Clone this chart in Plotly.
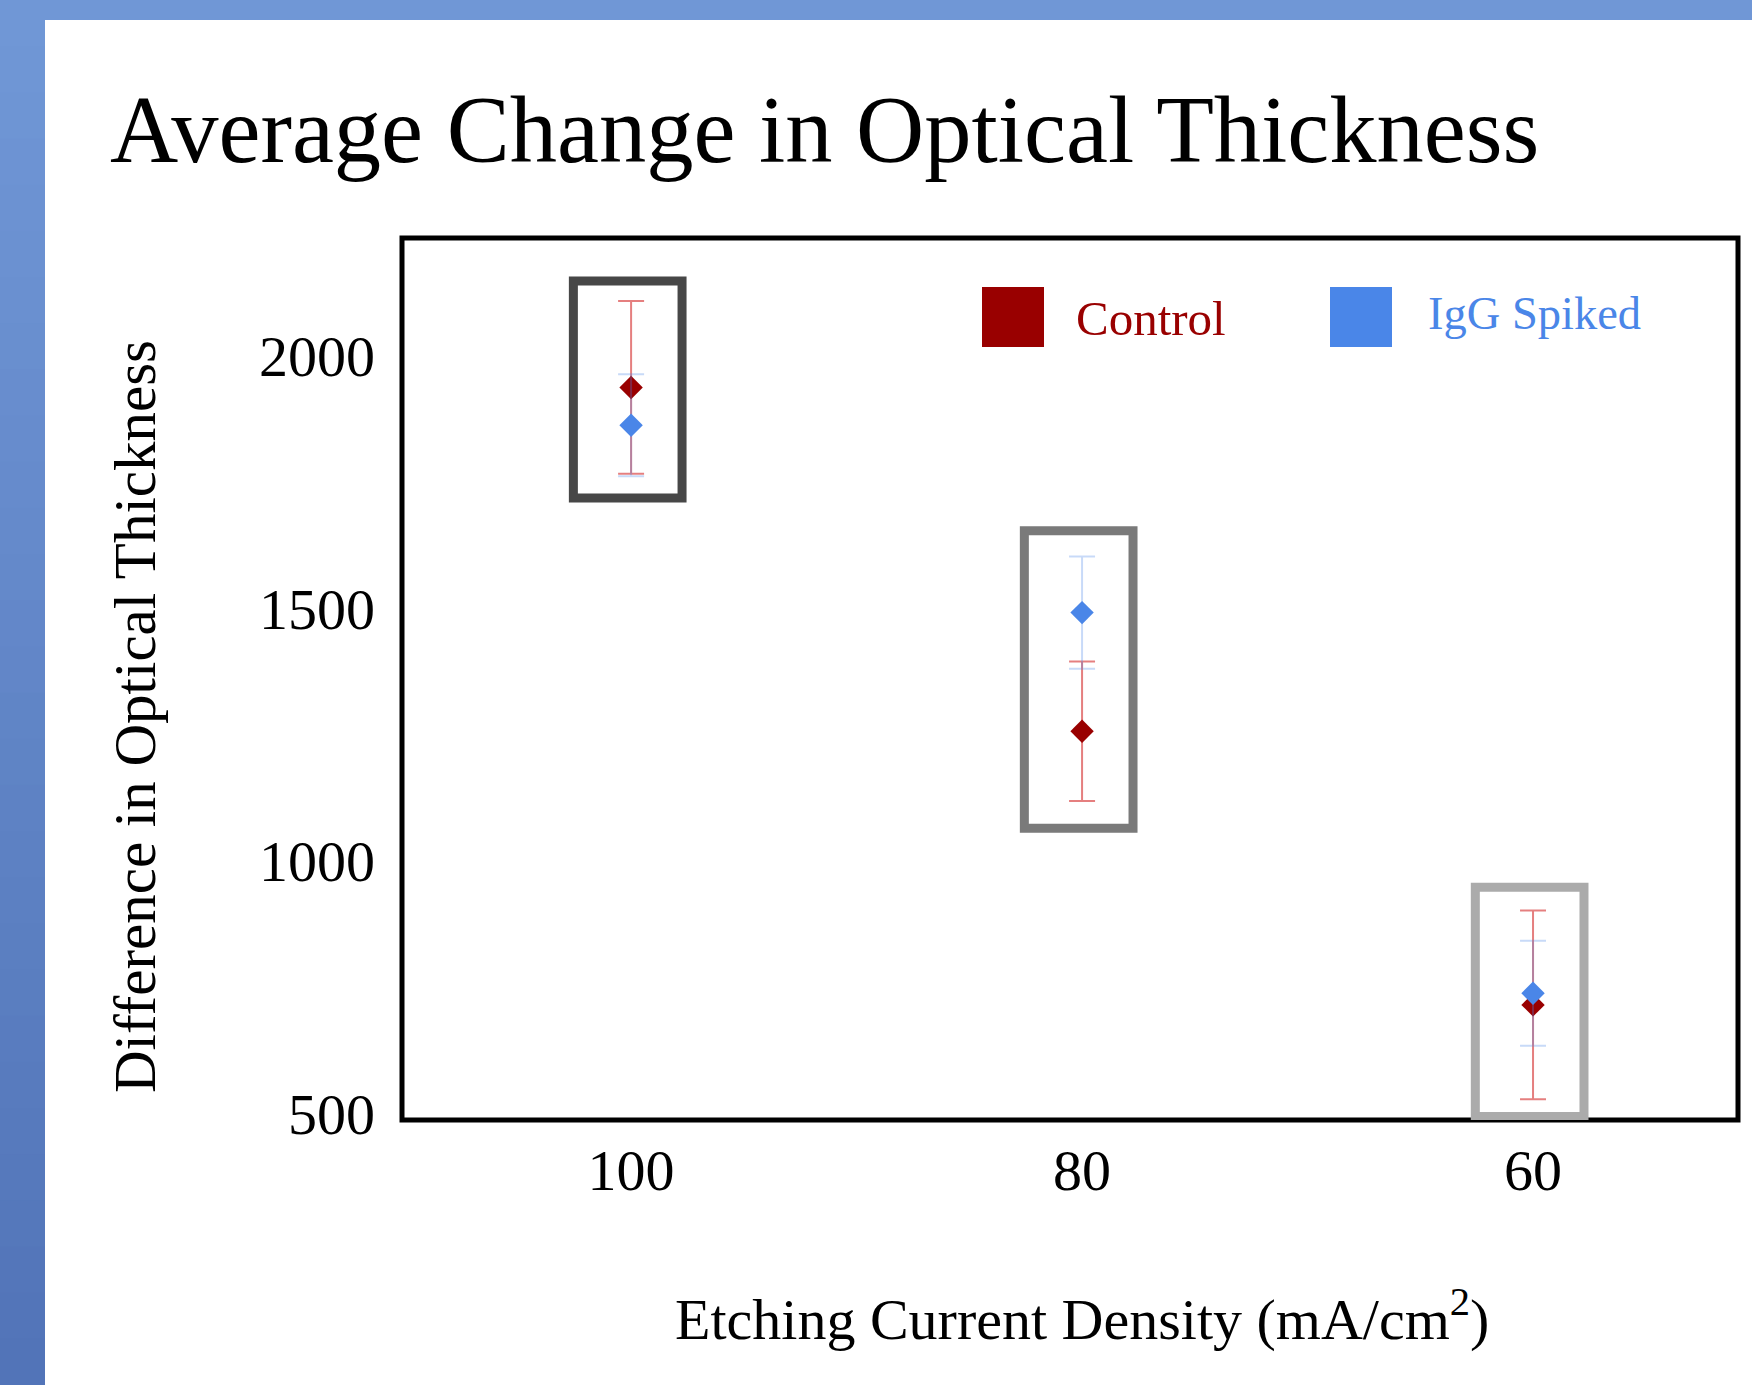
import plotly.graph_objects as go

# ---------------- data ----------------
categories = ["100", "80", "60"]          # etching current density (mA/cm^2)
control_mean = [1938, 1257, 715]
control_err = [171, 138, 187]
igg_mean = [1863, 1492, 738]
igg_err = [101, 111, 104]
y_ticks = [500, 1000, 1500, 2000]
highlight_low = [1719, 1065, 494]        # grey highlight boxes around each group
highlight_high = [2149, 1654, 948]

# ---------------- layout geometry ----------------
W, H = 1752, 1385
L, R, T, B = 402, 14, 238, 265
PW, PH = W - L - R, H - T - B

def px(x):
    return (x - L) / PW

def py(y):
    return (H - B - y) / PH

SERIF = "Liberation Serif, Times New Roman, serif"
RED = "#990000"
BLUE = "#4a86e8"

fig = go.Figure()
fig.add_trace(go.Scatter(
    x=categories, y=control_mean, mode="markers", name="Control",
    marker=dict(symbol="diamond", size=18, color=RED),
    error_y=dict(type="data", array=control_err, color="rgba(204,0,0,0.5)",
                 thickness=2, width=13),
    showlegend=False))
fig.add_trace(go.Scatter(
    x=categories, y=igg_mean, mode="markers", name="IgG Spiked",
    marker=dict(symbol="diamond", size=18, color=BLUE),
    error_y=dict(type="data", array=igg_err, color="rgba(74,134,232,0.3)",
                 thickness=2, width=13),
    showlegend=False))

shapes = []
# blue slide bands (top + left with slight vertical gradient)
shapes.append(dict(type="rect", xref="paper", yref="paper", layer="below",
                   x0=px(0), x1=px(W), y0=py(0), y1=py(20),
                   fillcolor="#7097d6", line=dict(width=0)))
n = 30
c0 = (0x70, 0x97, 0xd6)
c1 = (0x52, 0x74, 0xb8)
for i in range(n):
    t = i / (n - 1)
    col = "rgb(%d,%d,%d)" % tuple(round(a + (b - a) * t) for a, b in zip(c0, c1))
    ya = i * H / n
    yb = (i + 1) * H / n + 1
    shapes.append(dict(type="rect", xref="paper", yref="paper", layer="below",
                       x0=px(0), x1=px(45), y0=py(ya), y1=py(yb),
                       fillcolor=col, line=dict(width=0)))
# plot frame
shapes.append(dict(type="rect", xref="paper", yref="paper", layer="above",
                   x0=0, x1=1, y0=0, y1=1, line=dict(color="black", width=5)))
# highlight boxes
box_colors = ["#474747", "#7a7a7a", "#ababab"]
for i in range(len(categories)):
    shapes.append(dict(type="rect", xref="x", yref="y", layer="above",
                       x0=i - 0.128, x1=i + 0.113,
                       y0=highlight_low[i], y1=highlight_high[i],
                       line=dict(color=box_colors[i], width=9)))
# legend squares
shapes.append(dict(type="rect", xref="paper", yref="paper", layer="above",
                   x0=px(982), x1=px(1044), y0=py(347), y1=py(287),
                   fillcolor=RED, line=dict(width=0)))
shapes.append(dict(type="rect", xref="paper", yref="paper", layer="above",
                   x0=px(1330), x1=px(1392), y0=py(347), y1=py(287),
                   fillcolor=BLUE, line=dict(width=0)))

annotations = [
    dict(text="Control", xref="paper", yref="paper", x=px(1074), y=py(318),
         xanchor="left", yanchor="middle", showarrow=False,
         font=dict(family=SERIF, size=49, color=RED)),
    dict(text="IgG Spiked", xref="paper", yref="paper", x=px(1426), y=py(314),
         xanchor="left", yanchor="middle", showarrow=False,
         font=dict(family=SERIF, size=46.5, color=BLUE)),
    dict(text="Difference in Optical Thickness", xref="paper", yref="paper",
         x=px(135), y=py(717), xanchor="center", yanchor="middle",
         textangle=-90, showarrow=False,
         font=dict(family=SERIF, size=59, color="black")),
    dict(text="Etching Current Density (mA/cm<sup>2</sup>)", xref="paper",
         yref="paper", x=px(1082), y=py(1315), xanchor="center",
         yanchor="middle", showarrow=False,
         font=dict(family=SERIF, size=58, color="black")),
]

fig.update_layout(
    width=W, height=H,
    margin=dict(l=L, r=R, t=T, b=B),
    paper_bgcolor="white", plot_bgcolor="white",
    title=dict(text="Average Change in Optical Thickness",
               xref="container", yref="container",
               x=110 / W, xanchor="left", y=1 - 129 / H, yanchor="middle",
               font=dict(family=SERIF, size=94.5, color="black")),
    xaxis=dict(type="category", range=[-0.508, 2.4545],
               showgrid=False, zeroline=False, showline=False, ticks="",
               ticklabelstandoff=11,
               tickfont=dict(family=SERIF, size=58, color="black")),
    yaxis=dict(range=[487, 2234], tickvals=y_ticks,
               showgrid=False, zeroline=False, showline=False, ticks="",
               ticklabelstandoff=26,
               tickfont=dict(family=SERIF, size=58, color="black")),
    shapes=shapes, annotations=annotations,
    showlegend=False,
)

fig.write_html("out.html")
